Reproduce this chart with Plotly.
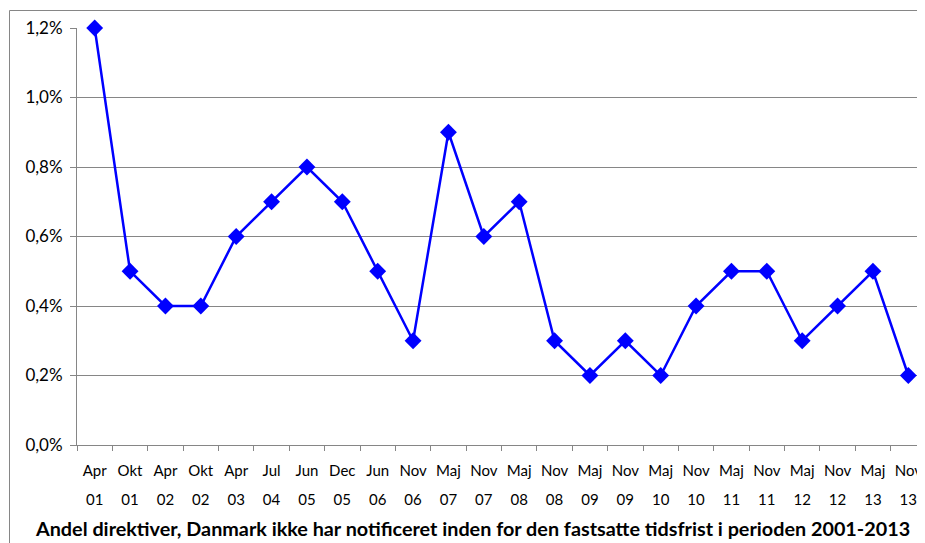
import plotly.graph_objects as go

months = ["Apr", "Okt", "Apr", "Okt", "Apr", "Jul", "Jun", "Dec", "Jun", "Nov", "Maj", "Nov",
          "Maj", "Nov", "Maj", "Nov", "Maj", "Nov", "Maj", "Nov", "Maj", "Nov", "Maj", "Nov"]
years = ["01", "01", "02", "02", "03", "04", "05", "05", "06", "06", "07", "07",
         "08", "08", "09", "09", "10", "10", "11", "11", "12", "12", "13", "13"]
values = [0.012, 0.005, 0.004, 0.004, 0.006, 0.007, 0.008, 0.007, 0.005, 0.003, 0.009, 0.006,
          0.007, 0.003, 0.002, 0.003, 0.002, 0.004, 0.005, 0.005, 0.003, 0.004, 0.005, 0.002]
y_ticks = [0, 0.002, 0.004, 0.006, 0.008, 0.010, 0.012]
title = "Andel direktiver, Danmark ikke har notificeret inden for den fastsatte tidsfrist i perioden 2001-2013"

cats = list(range(len(values)))
OFF = 8  # page body margin in the browser
W, H = 925, 543
# targets in screen pixels
SCR_LEFT, SCR_TOP, SCR_BOTTOM_AXIS, SCR_RIGHT = 77, 28, 445, 926
L = SCR_LEFT - OFF
T = SCR_TOP - OFF
R = W - (SCR_RIGHT - OFF)
B = 62
paper_h = H - T - B
axis_fig_y = SCR_BOTTOM_AXIS - OFF
dom0 = (H - B - axis_fig_y) / paper_h
pw = W - L - R

FONT = "Lato"
GRID = "#868686"

fig = go.Figure()
fig.add_trace(go.Scatter(
    x=cats, y=values, mode="lines+markers",
    line=dict(color="#0000FF", width=2.5),
    marker=dict(symbol="diamond", size=13, color="#0000FF"),
    cliponaxis=False, showlegend=False,
))
fig.add_trace(go.Scatter(x=cats, y=values, xaxis="x2", mode="none", showlegend=False, hoverinfo="skip"))
fig.add_trace(go.Scatter(x=cats, y=values, xaxis="x3", mode="none", showlegend=False, hoverinfo="skip"))

rng = [-0.5, len(values) - 0.5]
fig.update_layout(
    width=W, height=H,
    margin=dict(l=L, r=R, t=T, b=B, autoexpand=False),
    paper_bgcolor="white", plot_bgcolor="white",
    separators=",.",
    font=dict(family=FONT, size=14, color="black"),
    xaxis=dict(
        type="linear", range=rng, automargin=False,
        tickmode="array", tickvals=cats, ticktext=months,
        showgrid=False, zeroline=False,
        showline=True, linecolor=GRID, linewidth=1,
        ticks="", ticklabelstandoff=12, tickfont=dict(size=15, family=FONT),
        anchor="y", fixedrange=True,
    ),
    xaxis2=dict(
        type="linear", range=rng, overlaying="x", automargin=False,
        anchor="free", position=0, side="bottom",
        tickmode="array", tickvals=cats, ticktext=years,
        showgrid=False, zeroline=False, showline=False, ticks="",
        tickfont=dict(size=15, family=FONT),
    ),
    xaxis3=dict(
        type="linear", range=rng, overlaying="x", anchor="y", automargin=False,
        tickmode="array", tickvals=[c - 0.5 for c in cats] + [len(values) - 0.5],
        ticks="outside", ticklen=5, tickcolor=GRID, showticklabels=False,
        showgrid=False, zeroline=False, showline=False,
    ),
    yaxis=dict(
        range=[0, 0.012], domain=[dom0, 1], automargin=False,
        tickmode="array", tickvals=y_ticks,
        tickformat=".1%",
        showgrid=True, gridcolor=GRID, gridwidth=1,
        zeroline=False, showline=True, linecolor=GRID, linewidth=1,
        ticks="outside", ticklen=6, tickcolor=GRID, ticklabelstandoff=4,
        tickfont=dict(size=17, family=FONT),
        fixedrange=True,
    ),
)

def px_to_paper_x(sx):
    return (sx - OFF - L) / pw

def px_to_paper_y(sy):
    return (H - B - (sy - OFF)) / paper_h

# outer chart border (cropped)
fig.add_shape(type="rect", xref="paper", yref="paper",
              x0=px_to_paper_x(9.5), x1=px_to_paper_x(960),
              y0=px_to_paper_y(600), y1=px_to_paper_y(10.5),
              line=dict(color=GRID, width=1), fillcolor="rgba(0,0,0,0)", layer="below")

fig.add_annotation(text="<b>" + title + "</b>", xref="paper", yref="paper",
                   x=px_to_paper_x(33), y=px_to_paper_y(528), xanchor="left", yanchor="middle",
                   showarrow=False, font=dict(size=19.8, family=FONT, color="black"))

# cropped header text remnant
fig.add_annotation(text="g", xref="paper", yref="paper",
                   x=px_to_paper_x(18), y=px_to_paper_y(-12), xanchor="left", yanchor="middle",
                   showarrow=False, font=dict(size=20, family=FONT, color="black"))

fig.write_html("out.html")
